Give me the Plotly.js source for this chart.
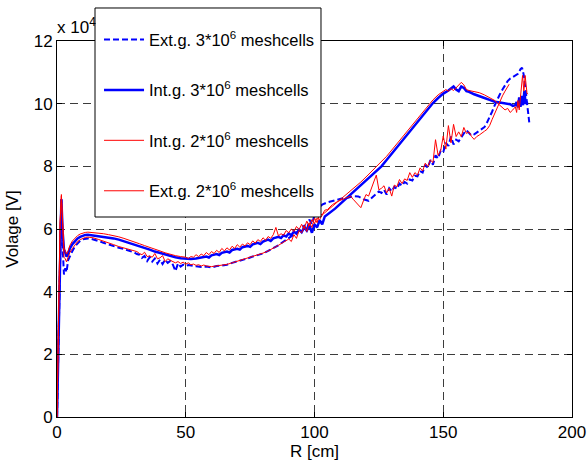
<!DOCTYPE html>
<html>
<head>
<meta charset="utf-8">
<script src="https://cdn.plot.ly/plotly-3.0.1.min.js"></script>
<style>html,body{margin:0;padding:0;background:#fff;}#chart{width:588px;height:463px;}</style>
</head>
<body>
<div id="chart"></div>
<script>
// Voltage values in units of 10^4 V, radius R in cm
const seriesNames = [
  'Ext.g. 3*10<sup>6</sup> meshcells',
  'Int.g. 3*10<sup>6</sup> meshcells',
  'Int.g. 2*10<sup>6</sup> meshcells',
  'Ext.g. 2*10<sup>6</sup> meshcells'
];

const xExt3 = [0,0.6,1.2,1.7,2.2,2.7,3.2,3.7,4.3,5,6,7,8,9,10,11,12,13,14,15,16,18,20,22,24,26,28,30,31,32,33,34,35,36,37,38,39,40,41,42,43,44,45,46,47,48,49,50,51,52,54,56,58,60,62,64,66,68,70,72,74,76,78,80,82,84,86,88,90,92,94,96,97,98,99,100,101,102,103,105,107,109,111,113,115,117,119,121,123,124,125,126,127,128,129,130,131,132,133,134,135,136,137,138,139,140,141,142,143,144,145,146,147,148,149,150,151,152,153,154,155,156,157,158,159,160,161,162,163,164,165,166,167,168,169,170,171,172,173,174,175,176,177,178,179,180,180.6,181.3,182,182.8,183.4];
const yExt3 = [0,2.5,5.5,6.95,5.4,4.55,4.75,4.62,5.0,5.15,5.3,5.45,5.55,5.62,5.67,5.69,5.7,5.69,5.67,5.65,5.62,5.56,5.5,5.45,5.4,5.36,5.31,5.25,5.2,5.18,5.08,5.14,4.98,5.1,4.96,5.06,4.9,5.02,4.88,5.02,4.92,4.98,4.86,4.66,4.9,4.8,4.86,4.82,4.85,4.83,4.81,4.79,4.8,4.77,4.82,4.83,4.86,4.92,4.96,5.02,5.06,5.12,5.17,5.22,5.3,5.38,5.48,5.6,5.7,5.82,5.95,6.1,5.95,6.3,6.15,6.45,6.6,6.7,6.78,6.85,6.9,6.95,6.98,7.0,7.05,7.04,6.95,6.9,7.05,7.15,7.2,7.15,7.25,7.1,7.3,7.2,7.35,7.28,7.45,7.38,7.5,7.45,7.58,7.55,7.7,7.68,7.85,7.8,8.05,7.95,8.2,8.05,8.35,8.25,8.5,8.45,8.75,8.65,8.95,8.7,8.85,8.8,8.95,9.05,9.15,9.05,8.98,9.02,9.08,9.15,9.2,9.25,9.4,9.55,9.75,9.95,10.15,10.3,10.45,10.6,10.72,10.8,10.85,10.9,10.95,11.1,11.15,10.9,10.4,9.95,9.4];

const xInt3 = [0,0.6,1.2,1.7,2.2,2.7,3.2,3.7,4.3,5,6,7,8,9,10,11,12,13,14,16,18,20,22,24,26,28,30,32,34,36,38,40,42,44,46,48,50,52,54,56,58,59,60,62,63,64,66,67,68,70,71,72,74,75,76,78,79,80,82,83,84,86,87,88,89,90,91,92,93,94,95,96,97,98,99,100,101,102,103,104,106,108,110,112,114,116,118,120,122,124,126,128,130,132,134,136,138,140,142,144,146,148,150,152,153,154,155,156,157,158,159,160,162,164,166,168,170,172,174,176,177,178,178.5,179,179.5,180,180.5,181,181.5,182,182.8];
const yInt3 = [0,2.5,5.8,6.95,5.9,5.35,5.25,5.12,5.2,5.38,5.52,5.62,5.7,5.75,5.79,5.81,5.82,5.81,5.8,5.78,5.76,5.73,5.7,5.66,5.61,5.56,5.5,5.44,5.39,5.34,5.28,5.23,5.18,5.13,5.1,5.07,5.05,5.04,5.06,5.1,5.12,5.09,5.16,5.2,5.17,5.24,5.28,5.25,5.33,5.37,5.34,5.42,5.46,5.43,5.51,5.56,5.52,5.6,5.66,5.62,5.7,5.75,5.71,5.8,5.76,5.86,5.8,5.92,5.85,5.98,5.9,6.05,5.95,6.12,5.88,6.15,6.05,6.28,6.15,6.4,6.52,6.65,6.8,6.95,7.1,7.25,7.4,7.55,7.7,7.85,8.0,8.2,8.4,8.6,8.8,9.0,9.2,9.4,9.62,9.82,10.02,10.18,10.32,10.42,10.5,10.55,10.45,10.4,10.55,10.5,10.4,10.38,10.3,10.25,10.18,10.12,10.06,10.04,10.01,9.98,9.93,9.95,10.05,9.88,10.2,9.9,10.25,9.95,10.4,10.0,10.05];

const xInt2 = [0,0.6,1.2,1.7,2.2,2.7,3.2,3.7,4.3,5,6,7,8,9,10,11,12,14,16,18,20,22,24,26,28,30,32,34,36,38,40,42,44,46,48,50,51,52,53,54,55,56,57,58,59,60,61,62,63,64,65,66,67,68,69,70,71,72,73,74,75,76,77,78,79,80,81,82,83,84,85,86,87,88,89,90,91,92,93,94,95,96,97,98,99,100,101,102,103,104,106,108,110,112,114,116,118,120,122,124,126,128,130,132,134,136,138,140,142,144,146,148,150,151,152,153,154,155,156,157,158,159,160,162,164,166,168,170,171,172,173,174,175,176,177,178,178.5,179,179.5,180,180.8,181.3,181.8,182.5,182.8];
const yInt2 = [0,3.0,6.2,7.1,6.0,5.4,5.3,5.2,5.3,5.48,5.62,5.72,5.79,5.84,5.87,5.89,5.9,5.89,5.87,5.85,5.82,5.79,5.75,5.7,5.65,5.59,5.53,5.47,5.42,5.36,5.3,5.24,5.19,5.15,5.12,5.1,5.06,5.12,5.1,5.18,5.12,5.2,5.15,5.25,5.18,5.28,5.22,5.32,5.25,5.38,5.3,5.4,5.33,5.45,5.38,5.5,5.42,5.52,5.46,5.56,5.5,5.62,5.55,5.66,5.6,5.72,5.64,5.76,5.7,5.82,6.05,5.78,5.85,5.8,5.95,5.88,6.0,5.92,6.08,5.98,6.15,6.02,6.25,6.1,6.3,6.18,6.35,6.3,6.45,6.52,6.64,6.78,6.92,7.06,7.2,7.35,7.5,7.66,7.82,7.98,8.14,8.32,8.52,8.72,8.92,9.12,9.32,9.52,9.74,9.95,10.12,10.28,10.4,10.45,10.4,10.48,10.42,10.5,10.6,10.68,10.6,10.45,10.42,10.38,10.35,10.28,10.2,10.1,10.02,9.95,9.9,9.8,9.85,9.72,9.8,9.9,9.72,10.1,9.8,10.3,10.9,10.4,10.9,10.35,10.3];

const xExt2 = [0,0.6,1.2,1.7,2.2,2.7,3.2,3.7,4.3,5,6,7,8,9,10,11,12,13,14,16,18,20,22,24,26,28,30,31,32,33,34,35,36,37,38,39,40,41,42,43,44,45,46,47,48,49,50,51,52,53,54,55,56,57,58,60,62,64,66,68,70,72,74,76,78,80,82,84,86,88,90,91,92,93,94,95,96,97,98,99,100,101,102,103,104,105,107,109,111,113,114,115,116,117,118,119,120,121,122,123,124,125,126,127,128,129,130,131,132,133,134,135,136,137,138,139,140,141,142,143,144,145,146,147,148,149,150,151,152,153,154,155,156,157,158,159,160,161,162,163,164,165,166,167,168,169,170,171,172,173,174,175,175.6];
const yExt2 = [0,3.0,6.2,7.05,5.8,5.1,5.05,4.95,5.1,5.25,5.38,5.5,5.6,5.66,5.7,5.73,5.74,5.73,5.72,5.67,5.62,5.56,5.5,5.44,5.39,5.35,5.3,5.28,5.22,5.18,5.26,5.12,5.14,5.1,5.22,5.05,5.08,5.15,4.96,5.05,5.0,4.95,4.92,4.96,4.9,4.94,4.88,4.92,4.86,4.88,4.84,4.86,4.82,4.85,4.82,4.8,4.82,4.84,4.87,4.92,4.97,5.02,5.07,5.12,5.17,5.23,5.3,5.38,5.48,5.58,5.68,5.6,5.82,5.7,5.95,5.88,6.1,5.92,6.2,6.05,6.35,6.2,6.5,6.45,6.6,6.62,6.78,6.88,6.95,7.0,7.05,6.95,6.85,6.75,6.68,6.9,7.1,7.05,7.3,7.5,7.72,7.25,7.3,7.38,7.15,7.3,7.05,7.4,7.35,7.58,7.45,7.6,7.55,7.8,7.65,7.8,7.72,7.95,7.85,8.1,8.0,8.2,8.12,8.85,8.35,8.5,8.97,8.55,9.3,8.75,9.34,8.95,9.1,8.95,9.24,9.05,9.1,8.95,8.86,8.95,9.0,9.05,9.12,9.18,9.3,9.5,9.7,9.9,10.08,10.25,10.4,10.55,10.62];

const xTicks = [0,50,100,150,200];
const yTicks = [0,2,4,6,8,10,12];

const FONT = 'Liberation Sans, Arial, Helvetica, sans-serif';
const FS = 17;
const LFS = 16.5;

const traces = [
  {x:xExt3, y:yExt3, name:seriesNames[0], mode:'lines', line:{color:'#0000ff', width:2, dash:'6px,3px'}, legendgroup:'a'},
  {x:xInt3, y:yInt3, name:seriesNames[1], mode:'lines', line:{color:'#0000ff', width:2.5}, legendgroup:'b'},
  {x:xInt2, y:yInt2, name:seriesNames[2], mode:'lines', line:{color:'#ff0000', width:1}, legendgroup:'c'},
  {x:xExt2, y:yExt2, name:seriesNames[3], mode:'lines', line:{color:'#ff0000', width:1}, legendgroup:'d'}
];

const axisCommon = {
  showline:true, linecolor:'#000', linewidth:1, mirror:'ticks',
  ticks:'inside', ticklen:5, tickcolor:'#000', tickwidth:1,
  showgrid:true, gridcolor:'#3c3c3c', gridwidth:1, griddash:'8px,5px',
  zeroline:false, tickfont:{family:FONT, size:FS, color:'#000'}
};

const layout = {
  width:588, height:463,
  margin:{l:57, r:16, t:41, b:46, pad:0},
  paper_bgcolor:'#fff', plot_bgcolor:'#fff',
  font:{family:FONT, size:FS, color:'#000'},
  showlegend:true,
  legend:{x:0.0816, y:1.050, xanchor:'left', yanchor:'top', bgcolor:'rgba(0,0,0,0)',
          borderwidth:0, itemwidth:40, font:{family:FONT, size:LFS, color:'#000'},
          traceorder:'grouped', tracegroupgap:26},
  xaxis:Object.assign({}, axisCommon, {range:[0,200], tickmode:'array', tickvals:xTicks,
          title:{text:'R [cm]', font:{family:FONT, size:FS}, standoff:3}}),
  yaxis:Object.assign({}, axisCommon, {range:[0,12], tickmode:'array', tickvals:yTicks,
          title:{text:'Volage [V]', font:{family:FONT, size:FS}, standoff:10}}),
  shapes:[{type:'rect', xref:'paper', yref:'paper', x0:0.0738, x1:0.5126, y0:0.5319, y1:1.0878,
           line:{color:'#000', width:1}, fillcolor:'#fff', layer:'above'}],
  annotations:[{text:'x 10<sup>4</sup>', xref:'paper', yref:'paper', x:0, y:1, xanchor:'left', yanchor:'bottom',
                showarrow:false, font:{family:FONT, size:FS, color:'#000'}, xshift:-2, yshift:2}]
};

Plotly.newPlot('chart', traces, layout, {displayModeBar:false, staticPlot:true});
</script>
</body>
</html>
